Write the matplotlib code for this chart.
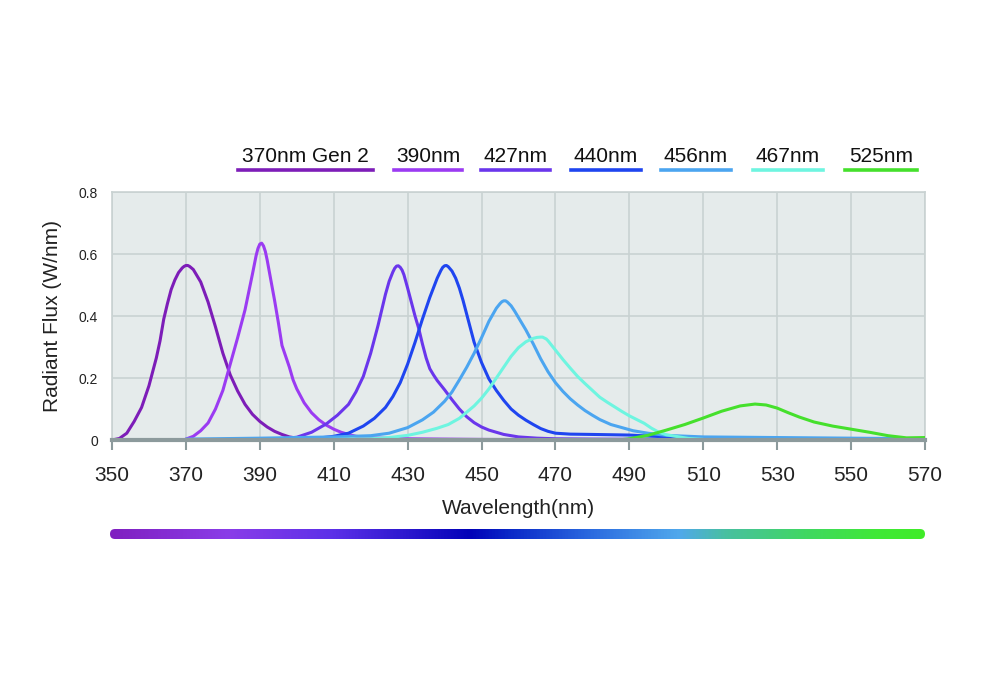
import numpy as np
import matplotlib.pyplot as plt
from matplotlib.colors import LinearSegmentedColormap
from matplotlib.patches import FancyBboxPatch
from matplotlib.lines import Line2D

plt.rcParams['font.family'] = ['Liberation Sans', 'DejaVu Sans']

# spectra (nm, W/nm)
w370 = [350, 352, 354, 356, 358, 360, 362, 363, 364, 365, 366, 367, 368, 369, 369.5, 370, 370.5,
        371, 372, 374, 376, 378, 380, 382, 384, 386, 388, 390, 392, 394, 396, 398, 400, 404,
        410, 420]
v370 = [0.0, 0.005, 0.022, 0.06, 0.105, 0.175, 0.265, 0.32, 0.39, 0.44, 0.485, 0.516, 0.54,
        0.555, 0.56, 0.563, 0.563, 0.56, 0.55, 0.51, 0.445, 0.365, 0.28, 0.21, 0.158, 0.115,
        0.083, 0.06, 0.042, 0.028, 0.018, 0.01, 0.006, 0.002, 0.0, 0.0]

w390 = [370, 372, 374, 376, 378, 380, 382, 384, 386, 388, 389, 389.5, 390, 390.5, 391, 391.5,
        392, 393, 394, 395, 396, 398, 399, 400, 402, 404, 406, 408, 410, 412, 414, 416, 420,
        430, 450, 470]
v390 = [0.003, 0.012, 0.03, 0.055, 0.1, 0.16, 0.245, 0.33, 0.42, 0.535, 0.595, 0.618, 0.632,
        0.635, 0.626, 0.608, 0.58, 0.515, 0.45, 0.38, 0.305, 0.235, 0.194, 0.165, 0.12, 0.088,
        0.065, 0.048, 0.035, 0.025, 0.018, 0.012, 0.007, 0.004, 0.002, 0.001]

w427 = [395, 400, 404, 408, 411, 414, 416, 418, 420, 422, 424, 425, 426, 426.5, 427, 427.5,
        428, 428.5, 429, 430, 431, 432, 433, 434, 435, 436, 437, 438, 440, 442, 444, 446, 448,
        450, 452, 456, 460, 465, 470, 480, 500, 570]
v427 = [0.003, 0.009, 0.025, 0.052, 0.08, 0.115, 0.155, 0.205, 0.28, 0.37, 0.47, 0.512, 0.542,
        0.554, 0.561, 0.562, 0.557, 0.548, 0.533, 0.49, 0.445, 0.4, 0.36, 0.31, 0.265, 0.23,
        0.21, 0.192, 0.162, 0.13, 0.1, 0.075, 0.056, 0.042, 0.032, 0.018, 0.01, 0.006, 0.004,
        0.003, 0.002, 0.001]

w440 = [400, 405, 410, 414, 418, 421, 424, 426, 428, 430, 432, 434, 436, 438, 439, 439.5, 440,
        440.5, 441, 442, 443, 444, 445, 446, 448, 450, 452, 454, 456, 458, 460, 462, 464, 466,
        468, 470, 474, 480, 490, 495, 500, 510, 530, 570]
v440 = [0.002, 0.005, 0.012, 0.022, 0.045, 0.07, 0.105, 0.14, 0.185, 0.245, 0.315, 0.39, 0.46,
        0.522, 0.547, 0.557, 0.562, 0.563, 0.559, 0.545, 0.522, 0.49, 0.45, 0.405, 0.315, 0.25,
        0.197, 0.16, 0.128, 0.1, 0.08, 0.064, 0.05, 0.037, 0.028, 0.022, 0.019, 0.018, 0.016,
        0.013, 0.01, 0.006, 0.004, 0.003]

w456 = [370, 390, 410, 420, 425, 430, 434, 437, 440, 442, 444, 446, 448, 450, 452, 454, 455,
        455.5, 456, 456.5, 457, 458, 459, 460, 462, 464, 466, 468, 470, 472, 474, 476, 478,
        480, 482, 485, 488, 491, 495, 500, 510, 530, 550, 570]
v456 = [0.003, 0.006, 0.01, 0.014, 0.022, 0.04, 0.065, 0.09, 0.125, 0.155, 0.194, 0.235, 0.28,
        0.33, 0.383, 0.425, 0.44, 0.446, 0.449, 0.449, 0.445, 0.433, 0.415, 0.395, 0.355, 0.31,
        0.262, 0.22, 0.185, 0.157, 0.133, 0.113, 0.095, 0.08, 0.066, 0.05, 0.04, 0.03, 0.022,
        0.015, 0.01, 0.008, 0.006, 0.004]

w467 = [400, 410, 420, 425, 430, 434, 438, 441, 444, 446, 448, 450, 452, 454, 456, 458, 460,
        462, 464, 465, 466, 466.5, 467.5, 468, 470, 472, 474, 476, 478, 480, 482, 484, 486, 488,
        490, 492, 494, 496, 498, 500, 503, 506, 510]
v467 = [0.0, 0.002, 0.004, 0.008, 0.015, 0.025, 0.038, 0.05, 0.07, 0.09, 0.11, 0.135, 0.165,
        0.2, 0.235, 0.27, 0.298, 0.317, 0.328, 0.331, 0.332, 0.332, 0.326, 0.32, 0.29, 0.26,
        0.232, 0.205, 0.182, 0.16, 0.138, 0.122, 0.107, 0.092, 0.078, 0.066, 0.054, 0.038,
        0.025, 0.017, 0.011, 0.005, 0.002]

w525 = [487, 490, 495, 500, 505, 510, 515, 520, 524, 527, 530, 533, 536, 540, 545, 550, 555,
        560, 565, 570]
v525 = [0.0, 0.004, 0.015, 0.032, 0.05, 0.071, 0.093, 0.11, 0.116, 0.113, 0.103, 0.088, 0.074,
        0.058, 0.045, 0.035, 0.025, 0.014, 0.007, 0.008]

labels = ['370nm Gen 2', '390nm', '427nm', '440nm', '456nm', '467nm', '525nm']
colors = ['#7D1DB8', '#9B3BF2', '#6A36EC', '#1F45F0', '#4BA5F0', '#6EF5E0', '#45E02C']
series = [(w370, v370), (w390, v390), (w427, v427), (w440, v440),
          (w456, v456), (w467, v467), (w525, v525)]

xticks = np.arange(350, 571, 20)
yticks = [0, 0.2, 0.4, 0.6, 0.8]
ytick_labels = ['0', '0.2', '0.4', '0.6', '0.8']

grid_c = '#C9D2D2'

fig = plt.figure(figsize=(10, 7), dpi=100)
ax = fig.add_axes([0.112, 0.3714, 0.813, 0.3543])
ax.set_facecolor('#E5EBEB')

for (w, v), c in zip(series, colors):
    ax.plot(w, v, color=c, lw=2.2, solid_capstyle='round', solid_joinstyle='round', zorder=3)

ax.set_xlim(350, 570)
ax.set_ylim(0, 0.8)
ax.set_xticks(xticks)
ax.set_yticks(yticks)
ax.set_yticklabels(ytick_labels)
ax.grid(True, color=grid_c, lw=1.2, zorder=0)
ax.set_axisbelow(True)

for s in ['left', 'top', 'right']:
    ax.spines[s].set_color(grid_c)
    ax.spines[s].set_linewidth(1.2)
ax.spines['bottom'].set_color('#8C9A9C')
ax.spines['bottom'].set_linewidth(3)
ax.spines['bottom'].set_zorder(4)

ax.tick_params(axis='x', length=7, width=1.5, color='#8C9A9C', pad=12,
               labelsize=15, labelcolor='#222222')
ax.tick_params(axis='y', length=0, pad=10, labelsize=10, labelcolor='#222222')

ax.set_xlabel('Wavelength(nm)', fontsize=15, color='#222222', labelpad=10)
ax.set_ylabel('Radiant Flux (W/nm)', fontsize=15, color='#222222', labelpad=12)

# legend above the plot: text over a colored bar
leg_left = [238, 394, 481, 571, 661, 753, 845]
leg_right = [373, 462, 550, 641, 731, 823, 917]
for lab, c, l, r in zip(labels, colors, leg_left, leg_right):
    y_line = 1 - 170 / 700
    fig.add_artist(Line2D([l / 1000, r / 1000], [y_line, y_line], color=c, lw=2.6,
                          transform=fig.transFigure))
    fig.text((l + r) / 2000, 1 - 156 / 700, lab, ha='center', va='center',
             fontsize=15, color='#111111')

# spectrum gradient bar
bar = fig.add_axes([0.110, 1 - 540 / 700, 0.815, 12 / 700])
bar.set_axis_off()
stops = [(0.0, '#8020C0'), (0.144, '#8A3CE8'), (0.274, '#5C30E8'), (0.442, '#0202B8'),
         (0.49, '#0A28C8'), (0.593, '#2C6CE0'), (0.699, '#50A8EC'), (0.757, '#48C0A0'),
         (0.859, '#40D860'), (0.941, '#40E838'), (1.0, '#40EC28')]
cmap = LinearSegmentedColormap.from_list('spec', stops)
grad = np.linspace(0, 1, 512)[None, :]
im = bar.imshow(grad, aspect='auto', cmap=cmap, extent=(0, 815, 0, 12))
bar.set_xlim(0, 815)
bar.set_ylim(0, 12)
clip = FancyBboxPatch((0, 1), 815, 10, boxstyle='round,pad=0,rounding_size=5',
                      transform=bar.transData, facecolor='none', edgecolor='none')
bar.add_patch(clip)
im.set_clip_path(clip)

fig.savefig('out.png', dpi=100, facecolor='white')
